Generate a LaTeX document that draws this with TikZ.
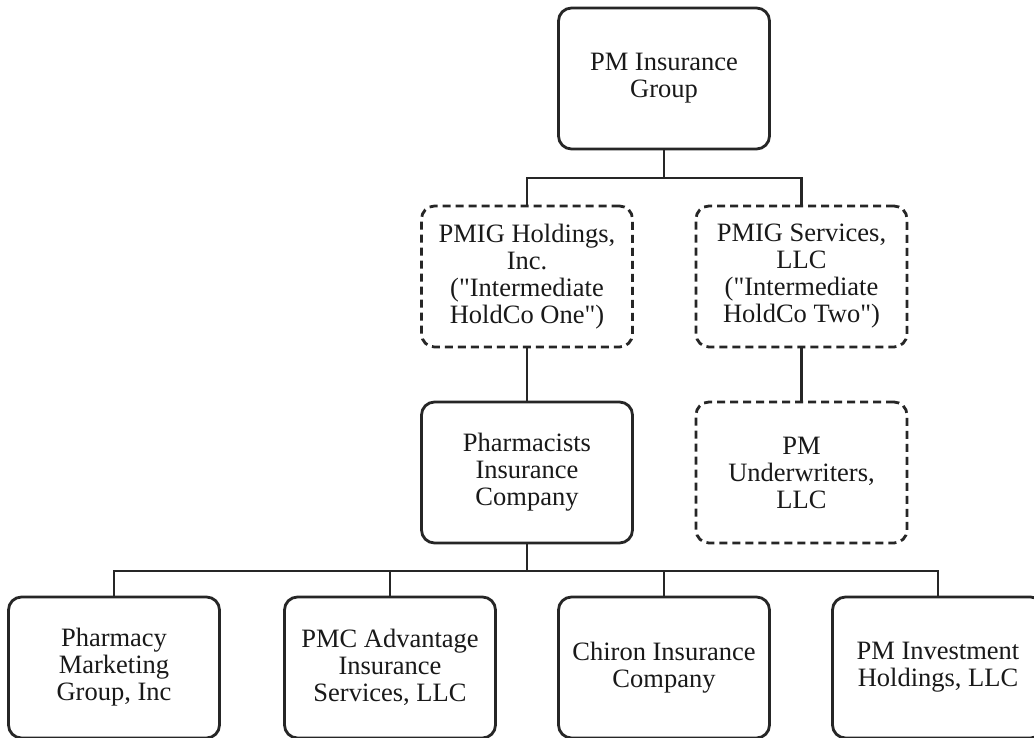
\documentclass[tikz,border=0pt]{standalone}
\usepackage{fontspec}
\setmainfont{Liberation Serif}[Ligatures=TeXOff]
\begin{document}
\begin{tikzpicture}[x=1pt,y=-1pt,
  orgbox/.style={draw=black!85, line width=2.8pt, rounded corners=13pt,
    minimum width=211pt, minimum height=141pt, inner sep=0pt,
    align=center, text=black!90, font=\fontsize{26.5}{27}\selectfont},
  dashbox/.style={orgbox, dash pattern=on 8pt off 5pt},
  link/.style={draw=black!85, line width=2.8pt}]
\useasboundingbox (0,0) rectangle (1034,738);
\fill[white] (0,0) rectangle (1034,738);

\node[orgbox] (top) at (664,78.5) {PM Insurance\\Group};
\node[dashbox] (hold) at (527,276.5) {PMIG Holdings,\\Inc.\\ ("Intermediate\\HoldCo One")};
\node[dashbox] (serv) at (801.5,276.5) {PMIG Services,\\LLC\\("Intermediate\\HoldCo Two")};
\node[orgbox] (pharm) at (527,472.5) {Pharmacists\\Insurance\\Company};
\node[dashbox] (under) at (801.5,472.5) {PM\\Underwriters,\\LLC};
\node[orgbox] (pmg) at (114,667.5) {Pharmacy\\Marketing\\Group, Inc};
\node[orgbox] (pmc) at (390,667.5) {PMC Advantage\\Insurance\\Services, LLC};
\node[orgbox] (chi) at (664,667.5) {Chiron Insurance\\Company};
\node[orgbox] (inv) at (938,667.5) {PM Investment\\Holdings, LLC};

\coordinate (b1) at (664,178);
\coordinate (b2) at (527,571);

\draw[link] (top.south) -- (b1);
\draw[link] (hold.north) |- (b1) -| (serv.north);
\draw[link] (hold.south) -- (pharm.north);
\draw[link] (serv.south) -- (under.north);
\draw[link] (pharm.south) -- (b2);
\draw[link] (pmg.north) |- (b2) -| (inv.north);
\draw[link] (pmc.north) -- (pmc.north |- b2);
\draw[link] (chi.north) -- (chi.north |- b2);
\end{tikzpicture}
\end{document}
